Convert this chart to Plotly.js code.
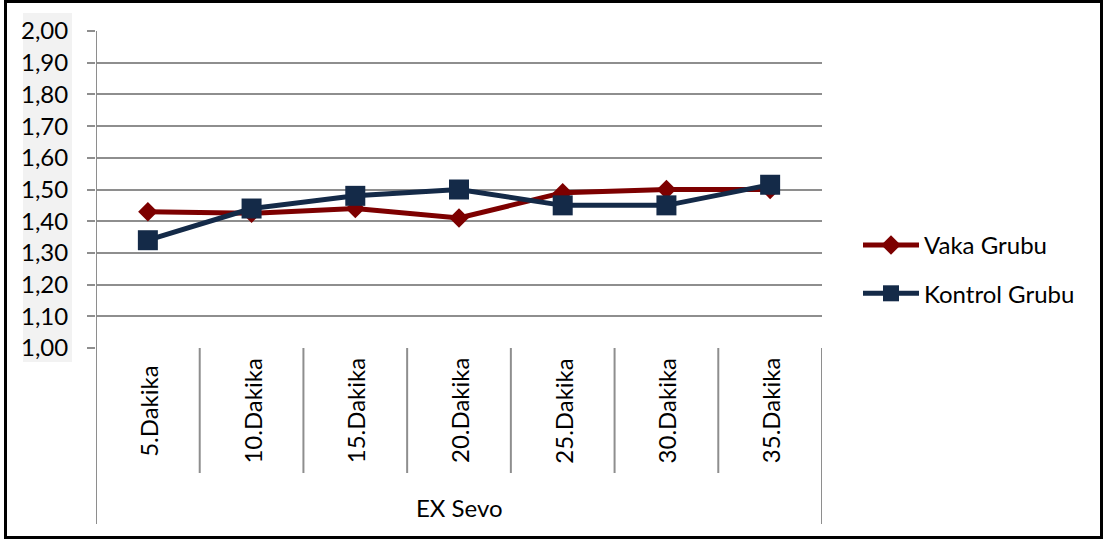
<!DOCTYPE html>
<html>
<head>
<meta charset="utf-8">
<script src="https://cdn.plot.ly/plotly-3.0.1.min.js"></script>
<style>
  html, body { margin: 0; padding: 0; background: #ffffff; }
  #chart { width: 1103px; height: 540px; }
</style>
</head>
<body>
<div id="chart"></div>
<script>
// Minutes after the end of sevoflurane exposure
const categories = ['5.Dakika', '10.Dakika', '15.Dakika', '20.Dakika', '25.Dakika', '30.Dakika', '35.Dakika'];
const groupLabel = 'EX Sevo';

// Mean values per group
const vakaGrubu    = [1.43, 1.425, 1.44, 1.41, 1.49, 1.50, 1.50];
const kontrolGrubu = [1.34, 1.44, 1.48, 1.50, 1.45, 1.45, 1.515];

const seriesNames = ['Vaka Grubu', 'Kontrol Grubu'];

const FONT = 'Lato, "Open Sans", sans-serif';
const GRID = '#8e8e8e';

// Plot area geometry (pixels) used to place the hierarchical category axis
const W = 1103, H = 540;
const M = { l: 96, r: 281, t: 31, b: 192 };
const plotH = H - M.t - M.b;
const plotW = W - M.l - M.r;
const pyFromPx = px => (H - M.b - px) / plotH;   // paper y from page y
const pxFromPx = px => (px - M.l) / plotW;       // paper x from page x

const traces = [
  {
    x: categories, y: vakaGrubu, name: seriesNames[0],
    type: 'scatter', mode: 'lines+markers', legendgroup: 'a',
    line: { color: '#7d0000', width: 5 },
    marker: { symbol: 'diamond', size: 15, color: '#7d0000' }
  },
  {
    x: categories, y: kontrolGrubu, name: seriesNames[1],
    type: 'scatter', mode: 'lines+markers', legendgroup: 'b',
    line: { color: '#142a48', width: 5 },
    marker: { symbol: 'square', size: 20, color: '#142a48' }
  }
];

const shapes = [];
// light panel behind the value labels
shapes.push({
  type: 'rect', xref: 'paper', yref: 'paper', layer: 'below',
  x0: pxFromPx(23), x1: pxFromPx(72), y0: pyFromPx(362), y1: pyFromPx(13),
  fillcolor: '#f2f2f2', line: { width: 0 }
});
// outer edges of the group span, running down past the category labels
shapes.push({
  type: 'line', xref: 'x', yref: 'paper',
  x0: -0.5, x1: -0.5, y0: pyFromPx(524), y1: 1,
  line: { color: GRID, width: 2 }
});
shapes.push({
  type: 'line', xref: 'x', yref: 'paper',
  x0: categories.length - 0.5, x1: categories.length - 0.5, y0: pyFromPx(524), y1: 0,
  line: { color: GRID, width: 2 }
});
// dividers between categories
for (let i = 1; i < categories.length; i++) {
  shapes.push({
    type: 'line', xref: 'x', yref: 'paper',
    x0: i - 0.5, x1: i - 0.5, y0: pyFromPx(473), y1: 0,
    line: { color: GRID, width: 2 }
  });
}
// chart frame
shapes.push({
  type: 'rect', xref: 'paper', yref: 'paper', layer: 'above',
  x0: pxFromPx(5.5), x1: pxFromPx(1101.5), y0: pyFromPx(537.5), y1: pyFromPx(1.5),
  line: { color: '#000000', width: 3 }, fillcolor: 'rgba(0,0,0,0)'
});

const annotations = categories.map((c, i) => ({
  x: i, y: pyFromPx(411), xref: 'x', yref: 'paper',
  text: c, showarrow: false, textangle: -90,
  xanchor: 'center', yanchor: 'middle',
  font: { family: FONT, size: 24, color: '#000000' }
}));
annotations.push({
  x: (categories.length - 1) / 2, y: pyFromPx(507), xref: 'x', yref: 'paper',
  text: groupLabel, showarrow: false,
  xanchor: 'center', yanchor: 'middle',
  font: { family: FONT, size: 24, color: '#000000' }
});

const layout = {
  width: W, height: H,
  margin: M,
  paper_bgcolor: '#ffffff',
  plot_bgcolor: '#ffffff',
  separators: ',.',
  font: { family: FONT, size: 24, color: '#000000' },
  showlegend: true,
  legend: {
    x: pxFromPx(858), y: pyFromPx(223), xanchor: 'left', yanchor: 'top',
    traceorder: 'grouped', tracegroupgap: 14,
    itemwidth: 56,
    font: { family: FONT, size: 24, color: '#000000' },
    bgcolor: 'rgba(0,0,0,0)'
  },
  xaxis: {
    type: 'category',
    range: [-0.5, categories.length - 0.5],
    showticklabels: false, ticks: '',
    showgrid: false, zeroline: false, showline: false,
    fixedrange: true
  },
  yaxis: {
    range: [1, 2], dtick: 0.1, tick0: 1,
    tickformat: '.2f',
    ticks: 'outside', ticklen: 8, tickwidth: 2, tickcolor: GRID,
    ticklabelstandoff: 14,
    showgrid: true, gridcolor: GRID, gridwidth: 2,
    zeroline: false, showline: false,
    tickfont: { family: FONT, size: 24, color: '#000000' },
    fixedrange: true
  },
  shapes: shapes,
  annotations: annotations
};

Plotly.newPlot('chart', traces, layout, { displayModeBar: false, staticPlot: true });
</script>
</body>
</html>
